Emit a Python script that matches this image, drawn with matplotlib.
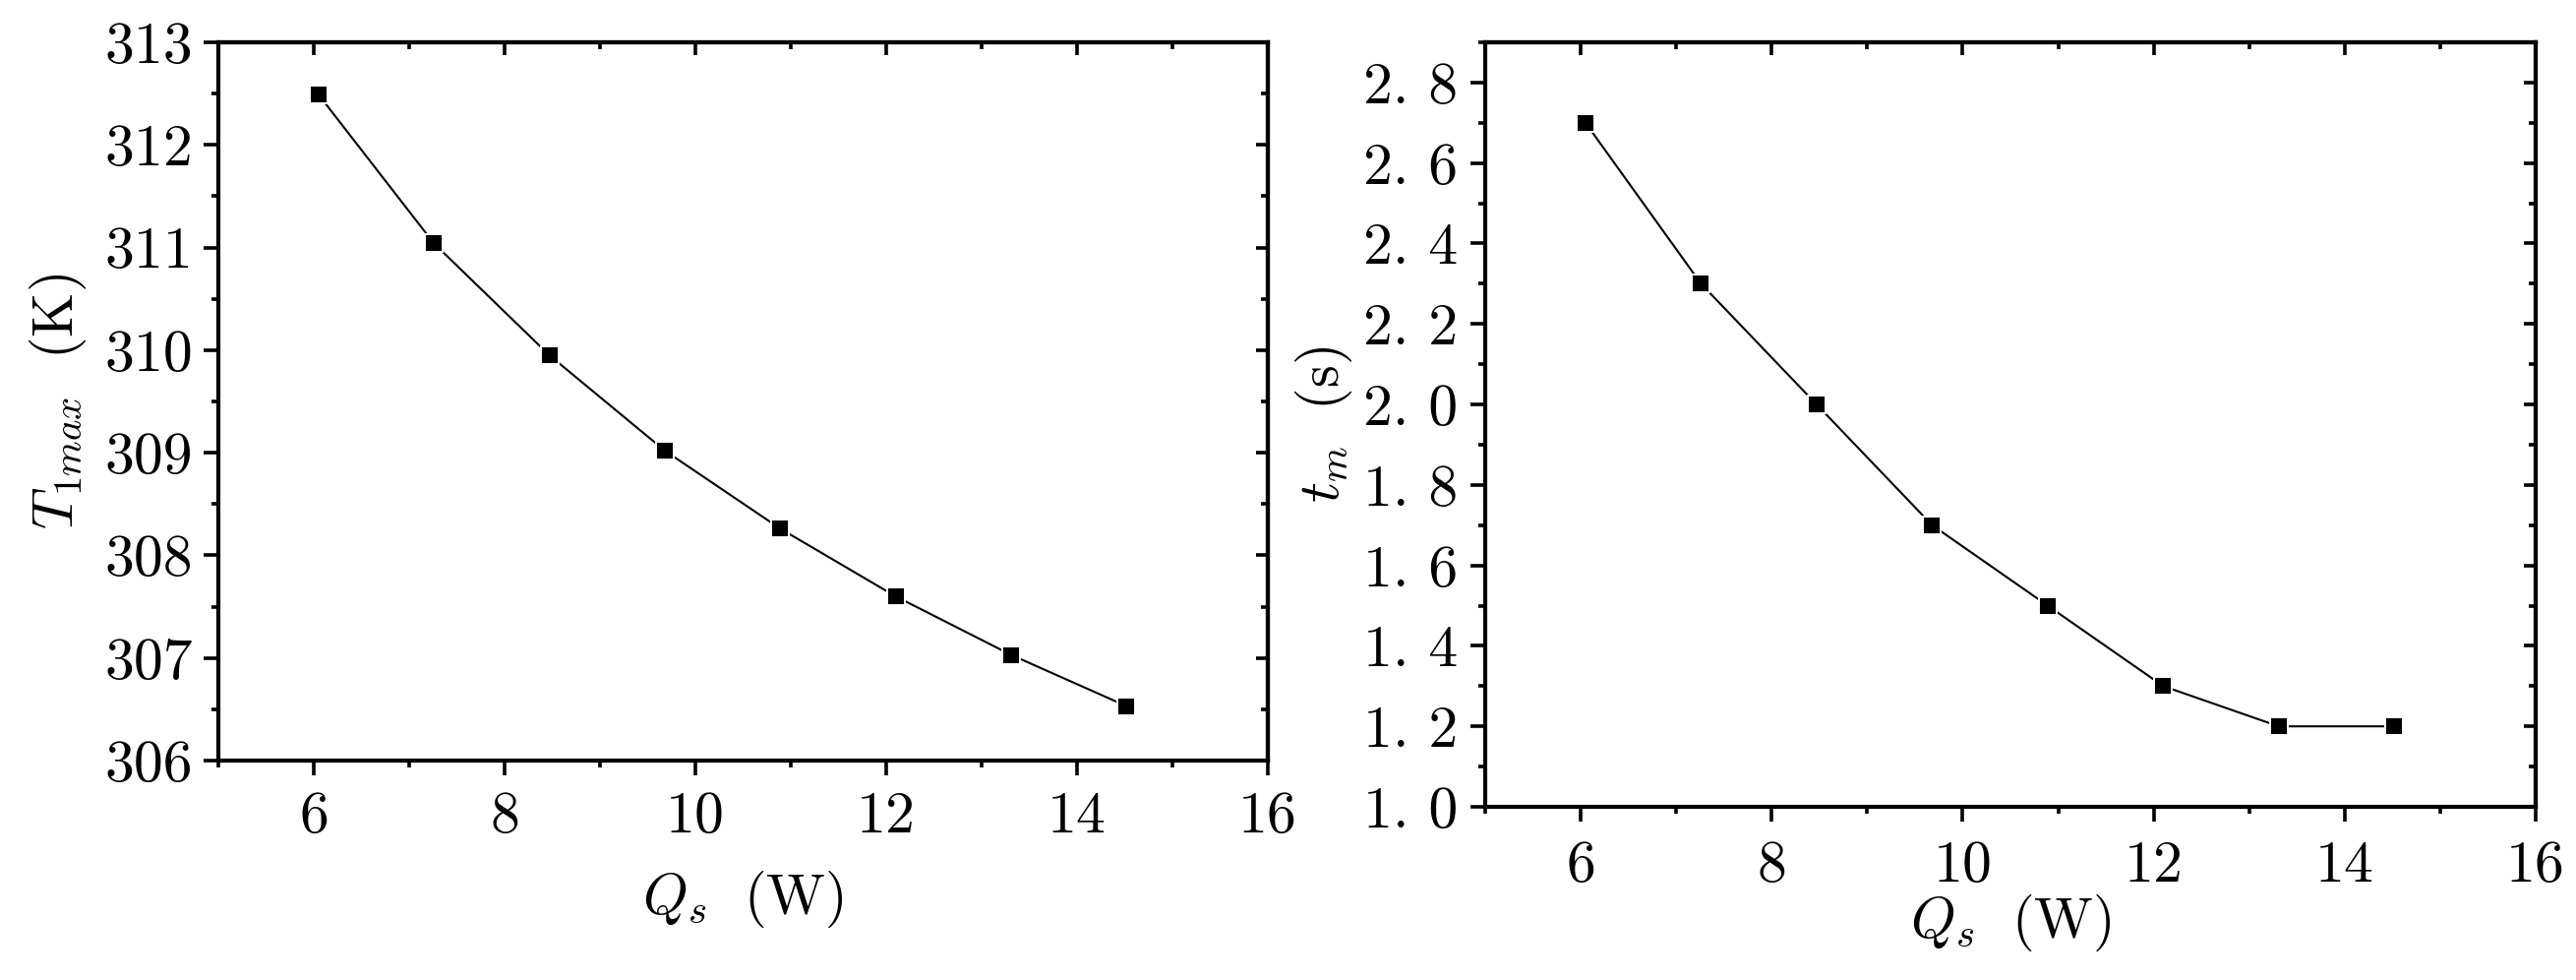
import matplotlib
matplotlib.use("Agg")
import matplotlib.pyplot as plt
from matplotlib.ticker import MultipleLocator, FixedLocator, NullFormatter

# ---- data ----
qs = [6.05, 7.26, 8.47, 9.68, 10.89, 12.10, 13.31, 14.52]
t1max = [312.49, 311.04, 309.95, 309.02, 308.26, 307.60, 307.03, 306.53]
tm = [2.7, 2.3, 2.0, 1.7, 1.5, 1.3, 1.2, 1.2]

x_ticks = [6, 8, 10, 12, 14, 16]
x_tick_labels = ["6", "8", "10", "12", "14", "16"]
left_y_ticks = [306, 307, 308, 309, 310, 311, 312, 313]
left_y_tick_labels = ["306", "307", "308", "309", "310", "311", "312", "313"]
right_y_ticks = [1.0, 1.2, 1.4, 1.6, 1.8, 2.0, 2.2, 2.4, 2.6, 2.8]
right_y_tick_labels = ["1. 0", "1. 2", "1. 4", "1. 6", "1. 8",
                       "2. 0", "2. 2", "2. 4", "2. 6", "2. 8"]

left_xlabel = r"$Q_{s}\ \ \mathrm{(W)}$"
left_ylabel = r"$T_{\mathit{1max}}\ \ \mathrm{(K)}$"
right_xlabel = r"$Q_{s}\ \ \mathrm{(W)}$"
right_ylabel = r"$t_{m}\ \ \mathrm{(s)}$"

plt.rcParams["font.family"] = "cmr10"
plt.rcParams["mathtext.fontset"] = "cm"
plt.rcParams["axes.formatter.use_mathtext"] = True

W, H, DPI = 2619, 996, 100
fig = plt.figure(figsize=(W / DPI, H / DPI), dpi=DPI)

TICK_FS = 43
LABEL_FS = 42
SPINE_W = 3.0
TICK_W = 2.6
MAJ_OUT, MIN_OUT = 10.8, 5.0
MAJ_IN, MIN_IN = 9.0, 5.0


def make_axes(rect):
    ax = fig.add_axes(rect)
    for s in ax.spines.values():
        s.set_linewidth(SPINE_W)
    return ax


def style(ax, xpad, ypad):
    ax.set_xlim(5, 16)
    ax.xaxis.set_major_locator(FixedLocator(x_ticks))
    ax.set_xticklabels(x_tick_labels)
    ax.xaxis.set_minor_locator(MultipleLocator(1))
    ax.tick_params(axis="both", which="both", direction="out",
                   top=False, right=False, width=TICK_W, labelsize=TICK_FS)
    ax.tick_params(axis="both", which="major", length=MAJ_OUT)
    ax.tick_params(axis="both", which="minor", length=MIN_OUT)
    ax.tick_params(axis="x", which="major", pad=xpad)
    ax.tick_params(axis="y", which="major", pad=ypad)

    # inward ticks on top and right
    top = ax.secondary_xaxis("top")
    top.xaxis.set_major_locator(FixedLocator(x_ticks))
    top.xaxis.set_minor_locator(MultipleLocator(1))
    top.tick_params(axis="x", which="both", direction="in", width=TICK_W,
                    labeltop=False, labelbottom=False)
    top.tick_params(axis="x", which="major", length=MAJ_IN)
    top.tick_params(axis="x", which="minor", length=MIN_IN)
    for s in top.spines.values():
        s.set_linewidth(SPINE_W)
    return top


def add_right(ax, major, minor):
    right = ax.secondary_yaxis("right")
    right.yaxis.set_major_locator(FixedLocator(major))
    right.yaxis.set_minor_locator(MultipleLocator(minor))
    right.tick_params(axis="y", which="both", direction="in", width=TICK_W,
                      labelright=False, labelleft=False)
    right.tick_params(axis="y", which="major", length=MAJ_IN)
    right.tick_params(axis="y", which="minor", length=MIN_IN)
    for s in right.spines.values():
        s.set_linewidth(SPINE_W)


line_kw = dict(color="black", linewidth=1.5, marker="s", markersize=13,
               markerfacecolor="black", markeredgecolor="white",
               markeredgewidth=1.4)

# ---- left panel ----
axL = make_axes([222 / W, 1 - 773 / H, (1289 - 222) / W, (773 - 43) / H])
axL.plot(qs, t1max, **line_kw)
style(axL, xpad=12, ypad=8)
axL.set_ylim(306, 313)
axL.yaxis.set_major_locator(FixedLocator(left_y_ticks))
axL.set_yticklabels(left_y_tick_labels)
axL.yaxis.set_minor_locator(MultipleLocator(0.5))
add_right(axL, left_y_ticks, 0.5)
axL.set_xlabel(left_xlabel, fontsize=LABEL_FS)
axL.set_ylabel(left_ylabel, fontsize=LABEL_FS)
axL.xaxis.set_label_coords(0.5, -0.150)
axL.yaxis.set_label_coords(-0.124, 0.5)

# ---- right panel ----
axR = make_axes([1510 / W, 1 - 820 / H, (2578 - 1510) / W, (820 - 43) / H])
axR.plot(qs, tm, **line_kw)
style(axR, xpad=14, ypad=9)
axR.set_ylim(1.0, 2.9)
axR.yaxis.set_major_locator(FixedLocator(right_y_ticks))
axR.set_yticklabels(right_y_tick_labels)
axR.yaxis.set_minor_locator(MultipleLocator(0.1))
add_right(axR, right_y_ticks, 0.1)
axR.set_xlabel(right_xlabel, fontsize=LABEL_FS)
axR.set_ylabel(right_ylabel, fontsize=LABEL_FS)
axR.xaxis.set_label_coords(0.5, -0.112)
axR.yaxis.set_label_coords(-0.1245, 0.5)

fig.savefig("out.png", dpi=DPI)
